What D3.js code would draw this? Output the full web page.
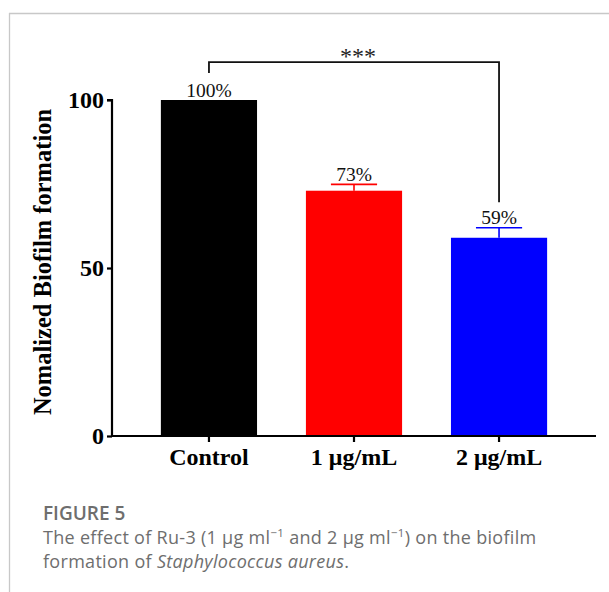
<!DOCTYPE html>
<html>
<head>
<meta charset="utf-8">
<script src="https://cdn.jsdelivr.net/npm/d3@7"></script>
<style>
  body { margin: 0; background: #fff; }
  svg { display: block; }
</style>
</head>
<body>
<svg id="chart" width="609" height="592" viewBox="0 0 609 592"></svg>
<script>
// data
const categories = ["Control", "1 μg/mL", "2 μg/mL"];
const values = [100, 73, 59];
const errors = [0, 1.9, 3];
const pctLabels = ["100%", "73%", "59%"];
const barColors = ["#000000", "#ff0000", "#0000ff"];
const yTicks = [0, 50, 100];
// significance bracket: from Control to 2 μg/mL
const sigPair = ["Control", "2 μg/mL"];
const sigLevels = [111.3, 108, 69.6]; // top line, left leg end, right leg end
const sigText = "***";

const svg = d3.select("#chart");
const width = parseInt(svg.attr("viewBox").split(' ')[2]);

// frame lines of the figure box
svg.append("line").attr("x1", 9).attr("x2", width).attr("y1", 13.5).attr("y2", 13.5)
    .attr("stroke", "#c8c8c8").attr("stroke-width", 1.3);
svg.append("line").attr("x1", 9.5).attr("x2", 9.5).attr("y1", 13).attr("y2", 592)
    .attr("stroke", "#c8c8c8").attr("stroke-width", 1.3);

const x = d3.scaleBand()
    .domain(categories)
    .range([112, 596])
    .paddingInner(0.337)
    .paddingOuter(0.337);

const y = d3.scaleLinear()
    .domain([0, 100])
    .range([436, 100]);

const serif = "'Liberation Serif', 'Times New Roman', serif";

// bars
svg.append("g")
    .selectAll("rect")
    .data(values)
    .enter()
    .append("rect")
    .attr("x", (d, i) => x(categories[i]))
    .attr("y", d => y(d))
    .attr("width", x.bandwidth())
    .attr("height", d => y(0) - y(d))
    .attr("fill", (d, i) => barColors[i]);

// error bars (upper only)
const err = svg.append("g");
values.forEach((v, i) => {
    if (!errors[i]) return;
    const cx = x(categories[i]) + x.bandwidth() / 2;
    const half = x.bandwidth() * 0.24;
    err.append("line").attr("x1", cx).attr("x2", cx)
        .attr("y1", y(v)).attr("y2", y(v + errors[i]))
        .attr("stroke", barColors[i]).attr("stroke-width", 1.6);
    err.append("line").attr("x1", cx - half).attr("x2", cx + half)
        .attr("y1", y(v + errors[i])).attr("y2", y(v + errors[i]))
        .attr("stroke", barColors[i]).attr("stroke-width", 1.6);
});

// percentage labels
svg.append("g")
    .selectAll("text")
    .data(values)
    .enter()
    .append("text")
    .attr("x", (d, i) => x(categories[i]) + x.bandwidth() / 2)
    .attr("y", (d, i) => y(d + errors[i]) - 3.5)
    .attr("text-anchor", "middle")
    .attr("font-family", serif)
    .attr("font-size", 19.5)
    .attr("fill", "#111")
    .text((d, i) => pctLabels[i]);

// axes
const yAxis = svg.append("g")
    .attr("transform", "translate(112,0)")
    .call(d3.axisLeft(y).tickValues(yTicks).tickSize(5).tickPadding(3));
const xAxis = svg.append("g")
    .attr("transform", `translate(0,${y(0)})`)
    .call(d3.axisBottom(x).tickSize(6).tickPadding(8).tickSizeOuter(0));

[yAxis, xAxis].forEach(g => {
    g.select(".domain").attr("stroke", "#000").attr("stroke-width", 2.2);
    g.selectAll(".tick line").attr("stroke", "#000").attr("stroke-width", 2.2);
    g.selectAll(".tick text")
        .attr("fill", "#000")
        .attr("font-family", serif)
        .attr("font-weight", "bold")
        .attr("font-size", 24);
});
yAxis.select(".domain").attr("d", `M-5,${y(100)}H0V${y(0)}`);
xAxis.select(".domain").attr("d", `M112,0H596`);
xAxis.selectAll(".tick text").attr("dy", "0.71em").attr("y", 12);

// y axis title
svg.append("text")
    .attr("transform", `translate(51,262) rotate(-90)`)
    .attr("text-anchor", "middle")
    .attr("font-family", serif)
    .attr("font-weight", "bold")
    .attr("font-size", 24.5)
    .attr("fill", "#000")
    .text("Nomalized Biofilm formation");

// significance bracket
const xl = x(sigPair[0]) + x.bandwidth() / 2;
const xr = x(sigPair[1]) + x.bandwidth() / 2;
svg.append("path")
    .attr("d", `M${xl},${y(sigLevels[1])}V${y(sigLevels[0])}H${xr}V${y(sigLevels[2])}`)
    .attr("fill", "none")
    .attr("stroke", "#111")
    .attr("stroke-width", 1.8);
svg.append("text")
    .attr("x", (xl + xr) / 2 + 4)
    .attr("y", y(sigLevels[0]) + 2)
    .attr("text-anchor", "middle")
    .attr("font-family", serif)
    .attr("font-size", 24)
    .attr("fill", "#222")
    .text(sigText);

// caption
const cap = svg.append("g").attr("fill", "#6e6e6e").attr("font-family", "'Open Sans', sans-serif");
cap.append("text").attr("x", 43).attr("y", 520)
    .attr("font-size", 19).attr("font-weight", 600).text("FIGURE 5");
const line1 = cap.append("text").attr("x", 43).attr("y", 544)
    .attr("font-size", 18).attr("letter-spacing", 0.3);
line1.append("tspan").text("The effect of Ru-3 (1 μg ml");
line1.append("tspan").attr("dy", -7).attr("font-size", 11.5).text("−1");
line1.append("tspan").attr("dy", 7).text(" and 2 μg ml");
line1.append("tspan").attr("dy", -7).attr("font-size", 11.5).text("−1");
line1.append("tspan").attr("dy", 7).text(") on the biofilm");
const line2 = cap.append("text").attr("x", 43).attr("y", 568)
    .attr("font-size", 18).attr("letter-spacing", 0.3);
line2.append("tspan").text("formation of ");
line2.append("tspan").attr("font-style", "italic").text("Staphylococcus aureus");
line2.append("tspan").text(".");
</script>
</body>
</html>
